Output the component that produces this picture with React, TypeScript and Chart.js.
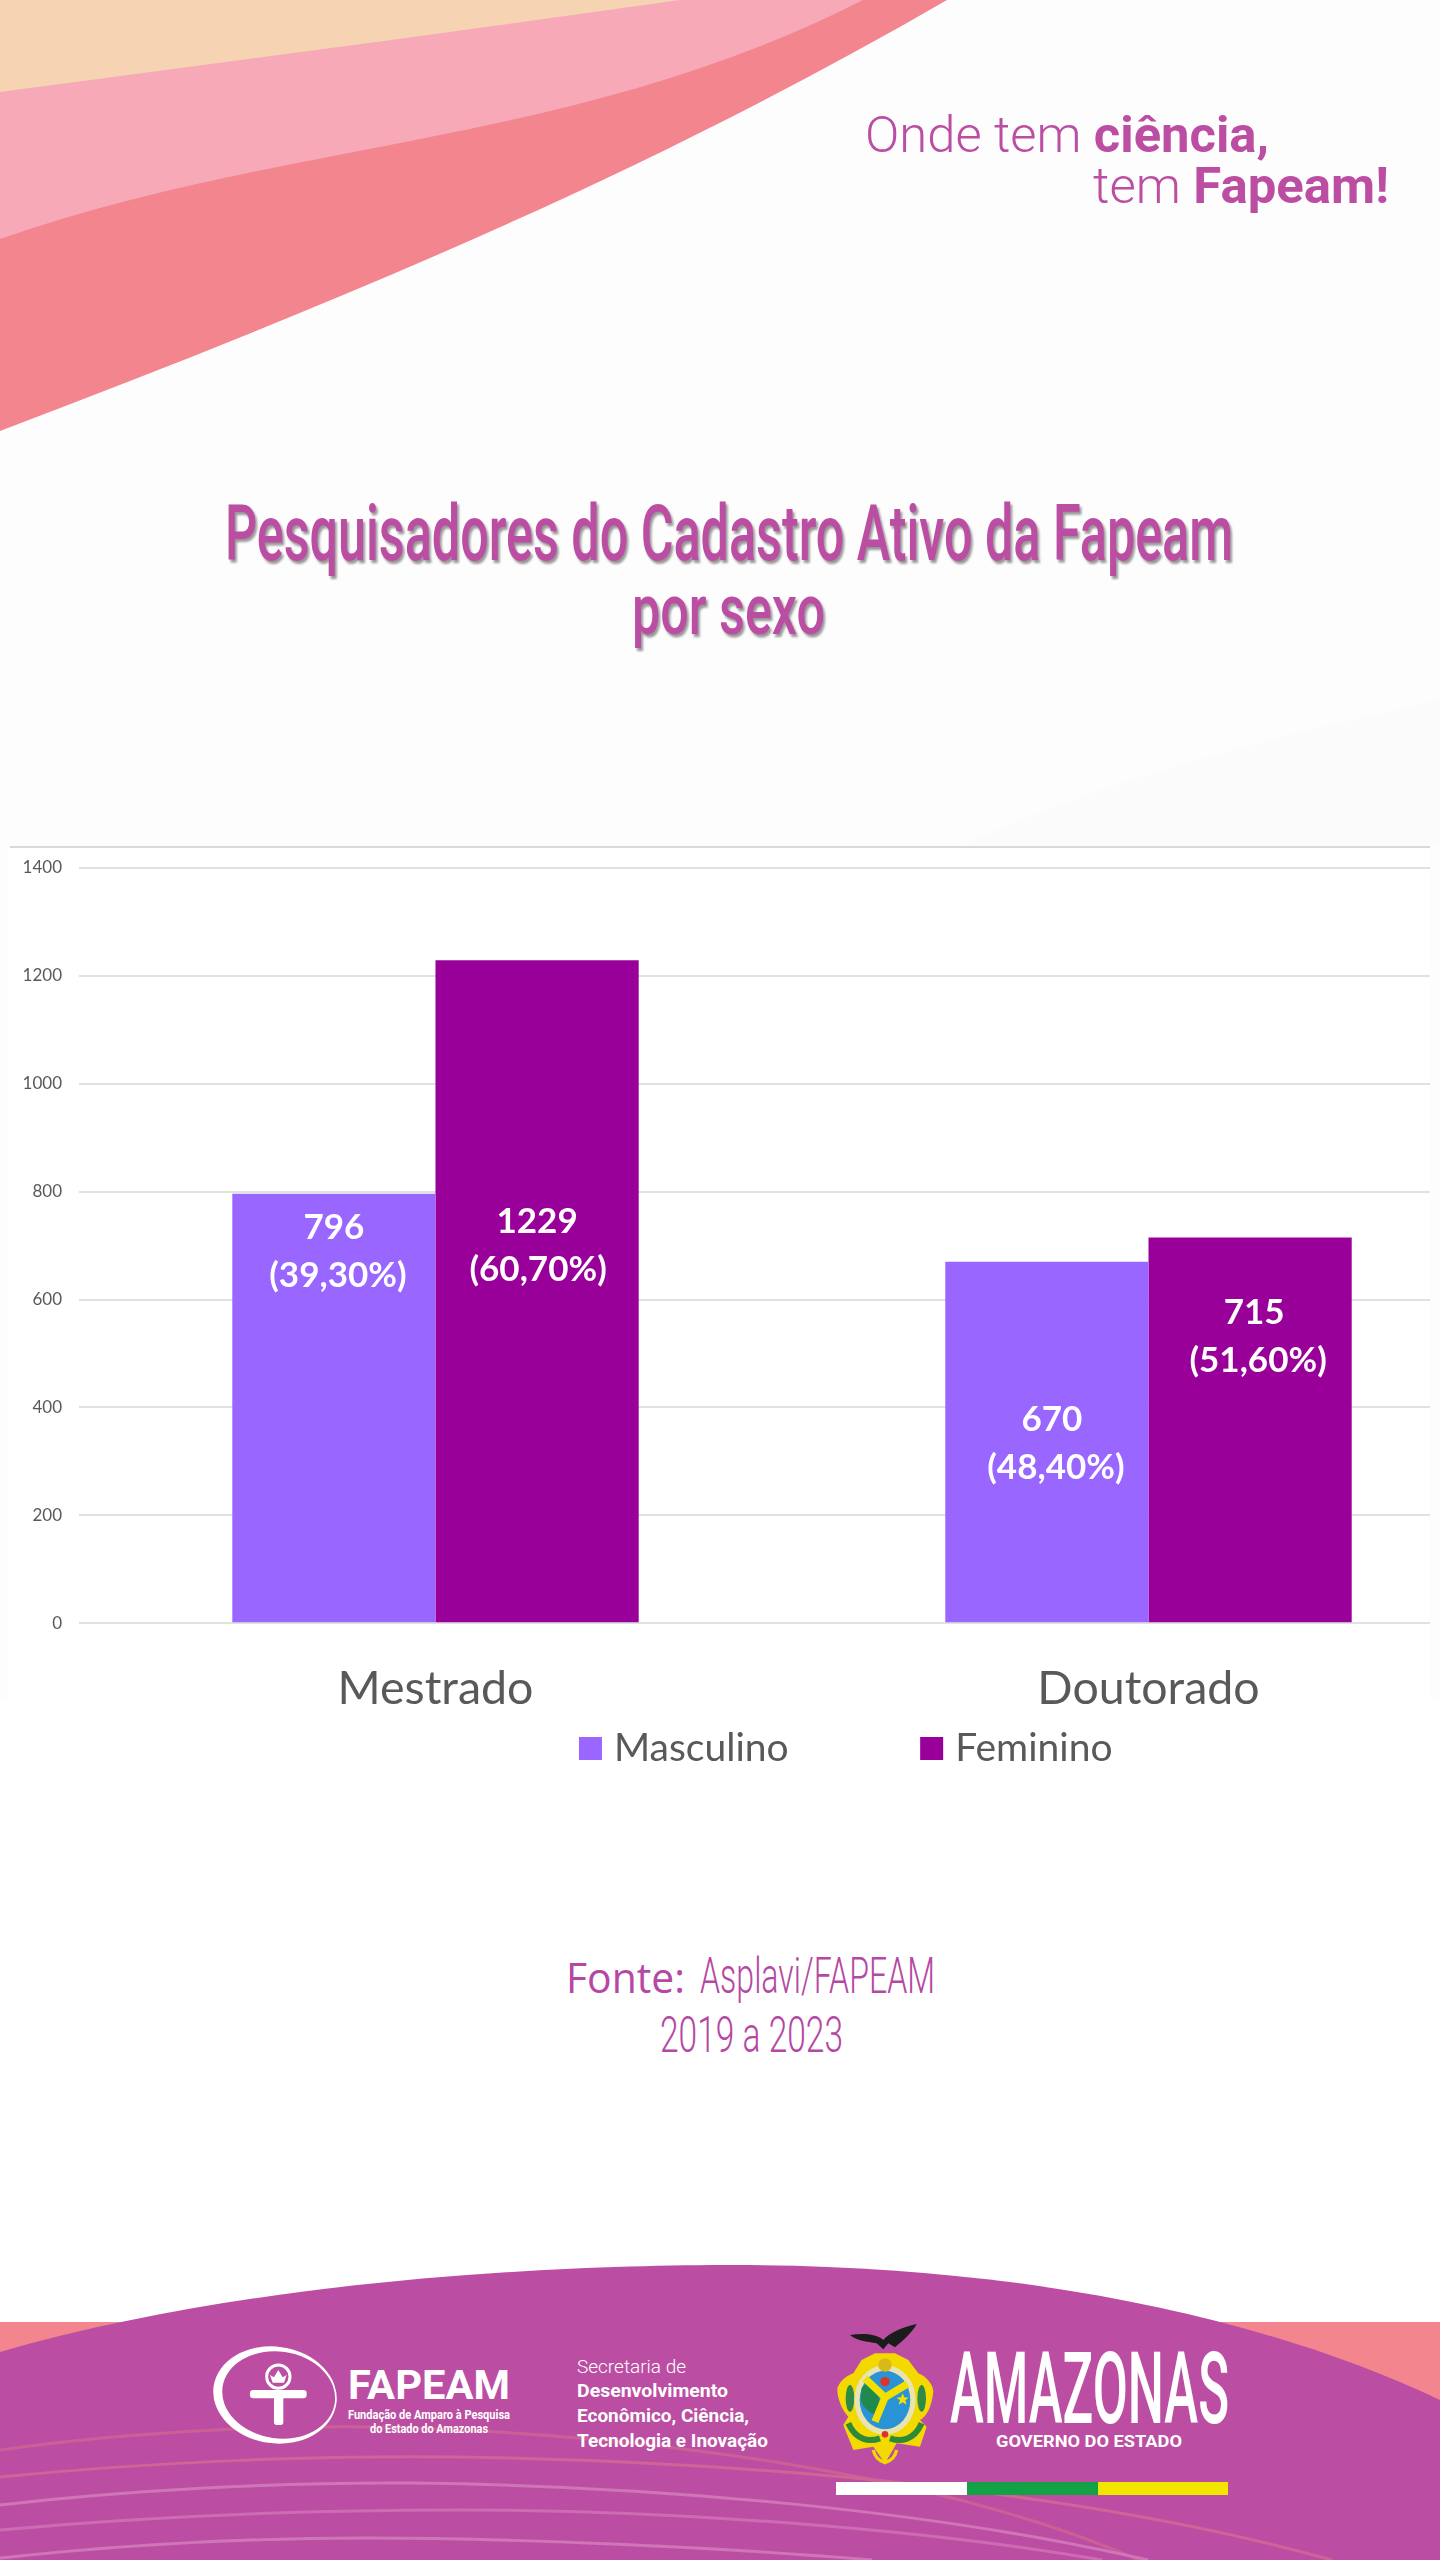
import { useEffect, useRef } from "react";
import { Chart, registerables } from "chart.js";

Chart.register(...registerables);

const categories = ["Mestrado", "Doutorado"];
const masculino = [796, 670];
const feminino = [1229, 715];
const masculinoLabels = [["796", "(39,30%)"], ["670", "(48,40%)"]];
const femininoLabels = [["1229", "(60,70%)"], ["715", "(51,60%)"]];

const PINK = "#bb4ea3";
const GREY = "#595959";

// label nudges from the top of each bar: [dx first line, dx second line, dy first line], by dataset then category
const labelNudges = [
  [[0, 4, 34], [5, 9, 158]],
  [[0, 1, 261], [4, 8, 75]],
];

const barLabels = {
  id: "barLabels",
  afterDatasetsDraw(chart: Chart) {
    const { ctx } = chart;
    const texts = [masculinoLabels, femininoLabels];
    ctx.save();
    ctx.fillStyle = "#ffffff";
    ctx.font = "bold 35px Lato";
    ctx.textAlign = "center";
    ctx.textBaseline = "middle";
    texts.forEach((rows, d) => {
      chart.getDatasetMeta(d).data.forEach((bar: any, i) => {
        const [dx1, dx2, dy] = labelNudges[d][i];
        ctx.fillText(rows[i][0], bar.x + dx1, bar.y + dy);
        ctx.fillText(rows[i][1], bar.x + dx2, bar.y + dy + 48);
      });
    });
    ctx.restore();
  },
};

// the legend sits off-centre and close under the axis in the original
const legendPlace = {
  id: "legendPlace",
  afterLayout(chart: any) {
    const l = chart.legend;
    const h = l.height;
    l.left += 97;
    l.right += 97;
    l.top = 742;
    l.bottom = l.top + h;
  },
};

function Bars() {
  const canvasRef = useRef<HTMLCanvasElement>(null);

  useEffect(() => {
    if (!canvasRef.current) return;
    const chart = new Chart(canvasRef.current, {
      type: "bar",
      data: {
        labels: categories,
        datasets: [
          { label: "Masculino", data: masculino, backgroundColor: "#9966ff" },
          { label: "Feminino", data: feminino, backgroundColor: "#990099" },
        ],
      },
      options: {
        animation: false,
        responsive: false,
        layout: { padding: { top: 20, left: 0, right: 0, bottom: 153 } },
        datasets: { bar: { categoryPercentage: 0.57, barPercentage: 1 } },
        scales: {
          x: {
            grid: { display: false },
            border: { display: false },
            ticks: { color: GREY, font: { family: "Lato", size: 46.5 }, padding: 30, maxRotation: 0 },
          },
          y: {
            min: 0,
            max: 1400,
            grid: { color: "#e1e1e1", lineWidth: 2, drawTicks: false },
            border: { display: false },
            ticks: {
              stepSize: 200,
              color: GREY,
              font: { family: "Lato", size: 17 },
              padding: 17,
              callback: (v: any) => String(v),
            },
            afterFit: (scale: any) => {
              scale.width = 79;
              scale.paddingTop = 0;
            },
          },
        },
        plugins: {
          tooltip: { enabled: false },
          legend: {
            position: "bottom",
            labels: {
              usePointStyle: true,
              pointStyle: "rect",
              boxWidth: 8,
              boxHeight: 23,
              padding: 139,
              color: GREY,
              font: { family: "Lato", size: 39 },
            },
          },
        },
      },
      plugins: [barLabels, legendPlace],
    });
    return () => { chart.destroy(); };
  }, []);

  return <canvas ref={canvasRef} width={1505} height={1240} style={{ display: "block" }} />;
}

// state coat of arms, sketched at 3x
function CoatOfArms() {
  return (
    <g transform="translate(820 2310) scale(0.3333)">
      <path d="M90 75 C130 68 170 72 190 90 C205 70 250 50 290 42 C275 70 250 90 225 112 L205 100 L190 118 L170 100 C140 95 110 92 90 75 Z" fill="#1c1c1c" />
      <path d="M125 150 L165 130 L225 130 L265 150 L295 190 C320 200 340 225 340 245 C335 290 320 320 300 330 L320 350 L300 410 L230 400 L195 460 L160 410 L100 420 L70 345 L85 320 C65 300 50 260 52 235 C60 210 85 195 100 190 Z" fill="#f3d900" />
      <ellipse cx={90} cy={265} rx={13} ry={40} fill="#2f8a45" />
      <ellipse cx={305} cy={265} rx={13} ry={40} fill="#2f8a45" />
      <path d="M85 340 C110 395 150 395 180 385 M305 340 C280 395 240 395 210 385" fill="none" stroke="#2d8a3a" strokeWidth={18} />
      <ellipse cx={195} cy={270} rx={92} ry={105} fill="#e9e3b0" />
      <ellipse cx={195} cy={270} rx={76} ry={88} fill="#2a93d5" />
      <path d="M125 235 C130 225 150 215 160 225 C175 250 185 270 170 315 C150 310 130 295 122 270 Z" fill="#1f8a4c" />
      <path d="M135 205 L195 262 L262 222 M195 262 L165 335" fill="none" stroke="#f3e000" strokeWidth={22} />
      <circle cx={195} cy={215} r={14} fill="#d9352c" />
      <path d="M248 250 L253 262 L266 263 L256 271 L260 284 L248 277 L236 284 L240 271 L230 263 L243 262 Z" fill="#f3e000" />
      <circle cx={195} cy={165} r={20} fill="#d9b91a" />
      <circle cx={195} cy={373} r={10} fill="#d9352c" />
      <path d="M195 390 L195 455 M160 420 C165 445 185 455 195 458 C205 455 225 445 230 420" fill="none" stroke="#f3d900" strokeWidth={10} />
    </g>
  );
}

// agency mark, sketched at 3x
function FapeamMark() {
  return (
    <g transform="translate(200 2330) scale(0.3333)">
      <ellipse cx={225} cy={195} rx={186} ry={145} fill="#ffffff" transform="rotate(8 225 195)" />
      <ellipse cx={236} cy={195} rx={170} ry={130} fill={PINK} transform="rotate(8 236 195)" />
      <circle cx={235} cy={140} r={35} fill="none" stroke="#ffffff" strokeWidth={9} />
      <path d="M210 135 L222 142 L235 120 L248 142 L260 135 L252 158 L218 158 Z" fill="#ffffff" />
      <rect x={150} y={180} width={170} height={25} rx={10} fill="#ffffff" />
      <rect x={222} y={195} width={28} height={90} rx={8} fill="#ffffff" />
    </g>
  );
}

function Backdrop() {
  const squeeze = { lengthAdjust: "spacingAndGlyphs" as const };
  const titleShadow = { filter: "drop-shadow(2px 3px 1px rgba(70,70,70,0.55))" };
  return (
    <svg width={1440} height={2560} style={{ position: "absolute", left: 0, top: 0 }}>
      <rect width={1440} height={1700} fill="#fdfdfd" />
      <path d="M960 846 C1100 780 1280 735 1440 700 L1440 846 Z" fill="#fbfbfb" />
      <path d="M0 0 L947 0 C629 184 315 311 0 431 Z" fill="#f3858f" />
      <path d="M0 0 L863 0 C574 147 289 138 0 239 Z" fill="#f7a9b7" />
      <path d="M0 0 L680 0 C453 32 227 62 0 92 Z" fill="#f5d3b3" />

      <g fontFamily="Roboto" fill={PINK} fontSize={50}>
        <text x={865} y={152} textLength={404} {...squeeze} fontWeight={300}>
          Onde tem <tspan fontWeight={700}>ciência,</tspan>
        </text>
        <text x={1093} y={203} textLength={296} {...squeeze} fontWeight={300}>
          tem <tspan fontWeight={700}>Fapeam!</tspan>
        </text>
      </g>

      <g fontFamily="Roboto" fontWeight={500} fill={PINK} fontSize={77} style={titleShadow}>
        <text x={225} y={560} textLength={1008} {...squeeze}>Pesquisadores do Cadastro Ativo da Fapeam</text>
        <text x={632} y={634} textLength={193} {...squeeze} fontSize={70}>por sexo</text>
      </g>

      <g fill="#b548a3">
        <text x={566} y={1993} fontFamily="Open Sans" fontSize={42} textLength={119} {...squeeze}>Fonte:</text>
        <text x={700} y={1993} fontFamily="Roboto" fontWeight={300} fontSize={50} textLength={235} {...squeeze}>Asplavi/FAPEAM</text>
        <text x={660} y={2052} fontFamily="Roboto" fontWeight={300} fontSize={50} textLength={183} {...squeeze}>2019 a 2023</text>
      </g>

      <rect y={2322} width={1440} height={238} fill="#f3858f" />
      <path d="M0 2352 C250 2280 550 2265 735 2265 C1000 2265 1250 2310 1440 2400 L1440 2560 L0 2560 Z" fill={PINK} />
      <g fill="none" strokeWidth={3}>
        <path d="M0 2450 C140 2430 300 2424 413 2428 C640 2436 930 2470 1139 2560" stroke="#cb6096" />
        <path d="M0 2477 C150 2462 320 2455 459 2457 C760 2462 1080 2490 1332 2560" stroke="#cf6496" />
        <path d="M0 2505 C130 2490 280 2482 413 2483 C660 2486 930 2510 1148 2560" stroke="#d075b8" />
        <path d="M0 2530 C150 2516 310 2510 459 2510 C680 2510 930 2530 1102 2560" stroke="#cd6cb3" />
        <path d="M0 2558 C120 2545 240 2538 367 2538 C520 2538 730 2548 872 2560" stroke="#d075b8" />
      </g>

      <FapeamMark />
      <g fontFamily="Roboto" fill="#ffffff" fontWeight={700}>
        <text x={348} y={2399} fontSize={41} textLength={162} {...squeeze}>FAPEAM</text>
        <text x={348} y={2419} fontSize={13} textLength={162} {...squeeze}>Fundação de Amparo à Pesquisa</text>
        <text x={370} y={2433} fontSize={13} textLength={118} {...squeeze}>do Estado do Amazonas</text>
        <text x={577} y={2373} fontSize={19} fontWeight={300} textLength={109} {...squeeze}>Secretaria de</text>
        <text x={577} y={2397} fontSize={19} textLength={151} {...squeeze}>Desenvolvimento</text>
        <text x={577} y={2422} fontSize={19} textLength={172} {...squeeze}>Econômico, Ciência,</text>
        <text x={577} y={2447} fontSize={19} textLength={191} {...squeeze}>Tecnologia e Inovação</text>
        <text x={950} y={2423} fontSize={100} fontWeight={500} textLength={279} {...squeeze}>AMAZONAS</text>
        <text x={996} y={2447} fontSize={17} textLength={186} {...squeeze}>GOVERNO DO ESTADO</text>
      </g>

      <CoatOfArms />

      <rect x={836} y={2482} width={131} height={13} fill="#ffffff" />
      <rect x={967} y={2482} width={131} height={13} fill="#12a144" />
      <rect x={1098} y={2482} width={130} height={13} fill="#f2e500" />
    </svg>
  );
}

export default function App() {
  return (
    <div style={{ position: "absolute", left: 0, top: 0, width: 1440, height: 2560, overflow: "hidden", background: "#ffffff" }}>
      <Backdrop />
      <div style={{ position: "absolute", left: 10, top: 846, width: 1420, height: 2, background: "#d9d9d9" }} />
      <div style={{ position: "absolute", left: 8, top: 848, width: 1422, height: 950, overflow: "hidden", background: "#ffffff" }}>
        <div style={{ marginLeft: -8 }}>
          <Bars />
        </div>
      </div>
    </div>
  );
}
